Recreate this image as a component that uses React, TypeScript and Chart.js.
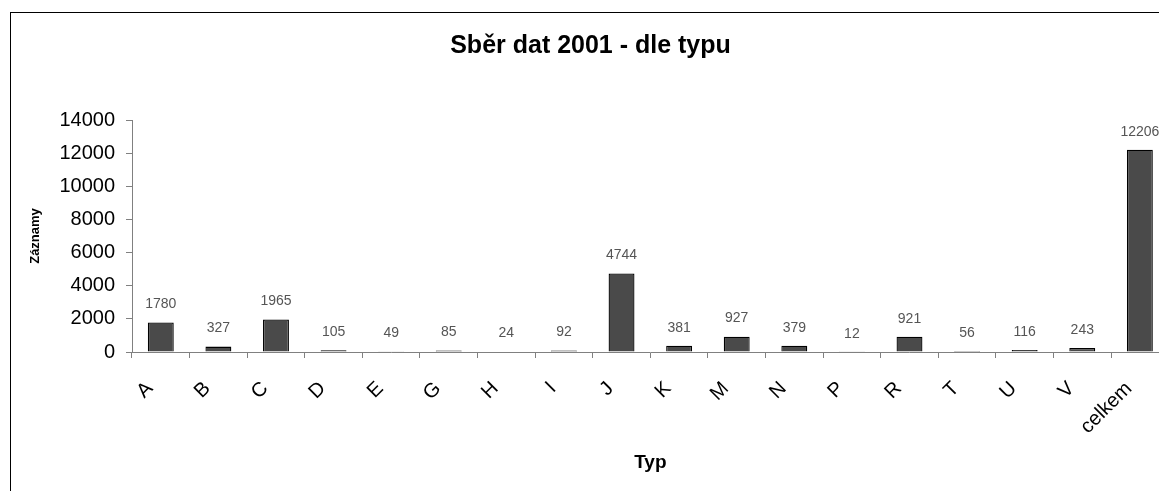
import React, { useEffect, useRef } from 'react';
import { Chart, registerables } from 'chart.js';

Chart.register(...registerables);

const categories = ['A', 'B', 'C', 'D', 'E', 'G', 'H', 'I', 'J', 'K', 'M', 'N', 'P', 'R', 'T', 'U', 'V', 'celkem'];
const records = [1780, 327, 1965, 105, 49, 85, 24, 92, 4744, 381, 927, 379, 12, 921, 56, 116, 243, 12206];
const yMin = 0;
const yMax = 14000;
const yStep = 2000;
const chartTitle = 'Sběr dat 2001 - dle typu';
const xTitle = 'Typ';
const yTitle = 'Záznamy';

const FONT = '"Liberation Sans", Arial, sans-serif';
const CANVAS_W = 1165;
const CANVAS_H = 480;

const titlePlugin = {
  id: 'excelTitle',
  afterDraw(chart: any) {
    const ctx = chart.ctx;
    ctx.save();
    ctx.font = `bold 25px ${FONT}`;
    ctx.fillStyle = '#000';
    ctx.textAlign = 'center';
    ctx.textBaseline = 'middle';
    ctx.fillText(chartTitle, chart.width / 2 - 3, 33);
    ctx.restore();
  },
};

const valueLabelPlugin = {
  id: 'valueLabels',
  afterDatasetsDraw(chart: any) {
    const ctx = chart.ctx;
    const meta = chart.getDatasetMeta(0);
    const data = chart.data.datasets[0].data as number[];
    ctx.save();
    ctx.font = `14px ${FONT}`;
    ctx.fillStyle = '#555555';
    ctx.textAlign = 'center';
    ctx.textBaseline = 'middle';
    meta.data.forEach((bar: any, i: number) => {
      ctx.fillText(String(data[i]), bar.x, bar.y - 18);
    });
    ctx.restore();
  },
};

export default function App() {
  const canvasRef = useRef<HTMLCanvasElement | null>(null);

  useEffect(() => {
    const canvas = canvasRef.current;
    if (!canvas) return;
    const chart = new Chart(canvas, {
      type: 'bar',
      data: {
        labels: categories,
        datasets: [
          {
            label: yTitle,
            data: records,
            backgroundColor: '#4a4a4a',
            borderColor: '#000000',
            borderWidth: 1.3,
            barPercentage: 0.45,
            categoryPercentage: 1,
          },
        ],
      },
      options: {
        responsive: false,
        animation: false,
        devicePixelRatio: 1,
        layout: { padding: { top: 107, right: 6, bottom: 0, left: 0 } },
        plugins: {
          legend: { display: false },
          tooltip: { enabled: false },
          title: { display: false },
        },
        scales: {
          x: {
            grid: {
              display: true,
              drawOnChartArea: false,
              drawTicks: true,
              tickLength: 6,
              color: '#808080',
              offset: true,
            },
            border: { display: true, color: '#808080', width: 1 },
            ticks: {
              autoSkip: false,
              minRotation: 45,
              maxRotation: 45,
              padding: 19,
              labelOffset: -11,
              color: '#000',
              font: { family: FONT, size: 20 },
            },
            title: {
              display: true,
              text: xTitle,
              color: '#000',
              font: { family: FONT, size: 19, weight: 'bold' },
              padding: { top: 0, bottom: 19 },
            },
            afterFit(scale: any) {
              scale.height = CANVAS_H - 339;
            },
          },
          y: {
            min: yMin,
            max: yMax,
            grid: {
              display: true,
              drawOnChartArea: false,
              drawTicks: true,
              tickLength: 6,
              color: '#808080',
            },
            border: { display: true, color: '#808080', width: 1 },
            ticks: {
              stepSize: yStep,
              padding: 11,
              color: '#000',
              font: { family: FONT, size: 20 },
              callback: (v: any) => String(v),
            },
            title: {
              display: true,
              text: yTitle,
              color: '#000',
              font: { family: FONT, size: 13, weight: 'bold' },
              padding: { top: 17, bottom: 0 },
            },
            afterFit(scale: any) {
              scale.width = 121;
            },
          },
        },
      },
      plugins: [titlePlugin, valueLabelPlugin],
    });
    return () => chart.destroy();
  }, []);

  return (
    <div
      style={{
        position: 'fixed',
        left: 0,
        top: 0,
        width: 1159,
        height: 491,
        overflow: 'hidden',
        background: '#fff',
      }}
    >
      <div
        style={{
          position: 'absolute',
          left: 10,
          top: 12,
          width: CANVAS_W,
          height: CANVAS_H,
          border: '1px solid #000',
          background: '#fff',
        }}
      >
        <canvas ref={canvasRef} width={CANVAS_W} height={CANVAS_H} style={{ display: 'block' }} />
      </div>
    </div>
  );
}
